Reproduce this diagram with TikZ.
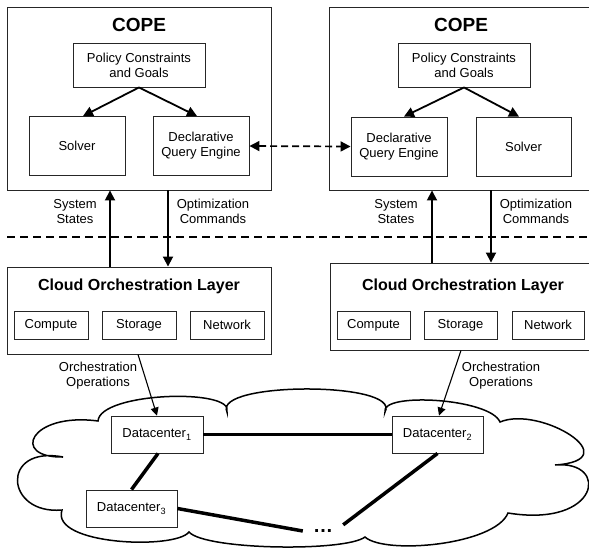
\documentclass[tikz,border=0pt]{standalone}
\usepackage{fontspec}
\setmainfont{Liberation Sans}
\usetikzlibrary{arrows.meta}
\begin{document}
\begin{tikzpicture}[x=1pt,y=-1pt,
  box/.style={draw=black!85, line width=0.9pt, fill=white, inner sep=0pt,
    align=center, font=\fontsize{13}{15}\selectfont},
  wh/.style 2 args={minimum width=#1pt, minimum height=#2pt},
  lbl/.style={align=center, inner sep=0pt, font=\fontsize{13}{15}\selectfont},
  ttl/.style={inner sep=0pt, font=\bfseries\fontsize{19}{22}\selectfont},
  subttl/.style={inner sep=0pt, font=\bfseries\fontsize{16}{19}\selectfont},
  arr/.style={line width=1.8pt, -{Triangle[length=10pt,width=10pt]}},
  arrthin/.style={line width=1.1pt, -{Triangle[length=8pt,width=8pt]}},
  peer/.style={line width=1.7pt, dash pattern=on 7pt off 4pt,
    {Triangle[length=10pt,width=10pt]}-{Triangle[length=10pt,width=10pt]}},
  divider/.style={line width=1.9pt, dash pattern=on 8pt off 5pt},
  link/.style={line width=3.5pt},
  cloudline/.style={line width=1.5pt},
]
\path[use as bounding box] (0,0) rectangle (589,550);
\clip (0,0) rectangle (589,550);

% datacenter cloud
\draw[cloudline] (98,421)
  .. controls (100,392) and (235,388) .. (227,412)
  .. controls (212.5,381.3) and (402,381.3) .. (385,412)
  .. controls (380,392) and (490,398) .. (500,422)
  .. controls (540,405) and (630,460) .. (555,465)
  .. controls (610,460) and (600,528) .. (508,513)
  .. controls (495,545) and (385,555) .. (365,537)
  .. controls (345,552) and (205,550) .. (189,532)
  .. controls (175,550) and (50,545) .. (62,510)
  .. controls (5,515) and (0,445) .. (63,457)
  .. controls (10,458) and (30,412) .. (98,421) -- cycle;

% left COPE instance
\node[box, wh={264}{183}] (copeL) at (139,98.5) {};
\node[ttl] (copeLt) at (139,25) {COPE};
\node[box, wh={132}{44}] (polL) at (139,65) {Policy Constraints\\and Goals};
\node[box, wh={96}{59}] (solL) at (77,146) {Solver};
\node[box, wh={96}{59}] (dqeL) at (201,146) {Declarative\\Query Engine};
\draw[arr] (polL.south) -- ([xshift=6pt]solL.north);
\draw[arr] (polL.south) -- ([xshift=-4pt]dqeL.north);

% right COPE instance
\node[box, wh={264}{183}] (copeR) at (461,98.5) {};
\node[ttl] (copeRt) at (461,25) {COPE};
\node[box, wh={132}{44}] (polR) at (464,65) {Policy Constraints\\and Goals};
\node[box, wh={96}{59}] (dqeR) at (399,146.5) {Declarative\\Query Engine};
\node[box, wh={95}{59}] (solR) at (523.5,146.5) {Solver};
\draw[arr] (polR.south) -- ([xshift=5pt]dqeR.north);
\draw[arr] (polR.south) -- ([xshift=-4.5pt]solR.north);

% peer link between query engines
\draw[peer] (dqeL.east) -- (dqeR.west);

% boundary between control and orchestration
\coordinate (divL) at (7,237);
\coordinate (divR) at (589,237);
\draw[divider] (divL) -- (divR);

% left orchestration layer
\node[box, wh={264}{87}] (clL) at (139,310.5) {};
\node[subttl] (clLt) at (139,286) {Cloud Orchestration Layer};
\node[box, wh={74}{28}] (cmpL) at (51,325) {Compute};
\node[box, wh={74}{28}] (stoL) at (139,325) {Storage};
\node[box, wh={74}{28}] (netL) at (227,325) {Network};

% right orchestration layer
\node[box, wh={264}{87}] (clR) at (462,306.5) {};
\node[subttl] (clRt) at (463,286) {Cloud Orchestration Layer};
\node[box, wh={73}{28}] (cmpR) at (373.5,325) {Compute};
\node[box, wh={73}{28}] (stoR) at (460.5,325) {Storage};
\node[box, wh={72}{28}] (netR) at (548,325) {Network};

% state / command exchange
\draw[arr] ([xshift=-29pt]clL.north) -- ([xshift=-29pt]copeL.south);
\draw[arr] ([xshift=29pt]copeL.south) -- ([xshift=29pt]clL.north);
\draw[arr] ([xshift=-29pt]copeR.south |- clR.north) -- ([xshift=-29pt]copeR.south);
\draw[arr] ([xshift=30pt]copeR.south) -- ([xshift=30pt]copeR.south |- clR.north);
\node[lbl] (ssL) at (75,211.5) {System\\States};
\node[lbl] (ocL) at (213,211.5) {Optimization\\Commands};
\node[lbl] (ssR) at (396,211.5) {System\\States};
\node[lbl] (ocR) at (536,211.5) {Optimization\\Commands};

% datacenters
\node[box, wh={92}{37}] (dc1) at (157,434.5) {Datacenter\textsubscript{1}};
\node[box, wh={91}{37}] (dc2) at (437.5,434.5) {Datacenter\textsubscript{2}};
\node[box, wh={91}{37}] (dc3) at (131.5,508.5) {Datacenter\textsubscript{3}};
\node[inner sep=0pt, minimum width=40pt, minimum height=12pt,
  font=\bfseries\fontsize{20}{20}\selectfont] (dots) at (323,531) {…};

\draw[link] (dc1.east) -- (dc2.west);
\draw[link] ([xshift=1pt]dc1.south) -- (dc3.north);
\draw[link] (dc3.east) -- (dots.west);
\draw[link] (dc2.south) -- (dots.north east);

% orchestration operations
\draw[arrthin] ([xshift=-1pt]clL.south) -- (dc1.north);
\draw[arrthin] ([xshift=-1pt]clR.south) -- ([xshift=1.5pt]dc2.north);
\node[lbl] (ooL) at (98,376) {Orchestration\\Operations};
\node[lbl] (ooR) at (501,376) {Orchestration\\Operations};
\end{tikzpicture}
\end{document}
